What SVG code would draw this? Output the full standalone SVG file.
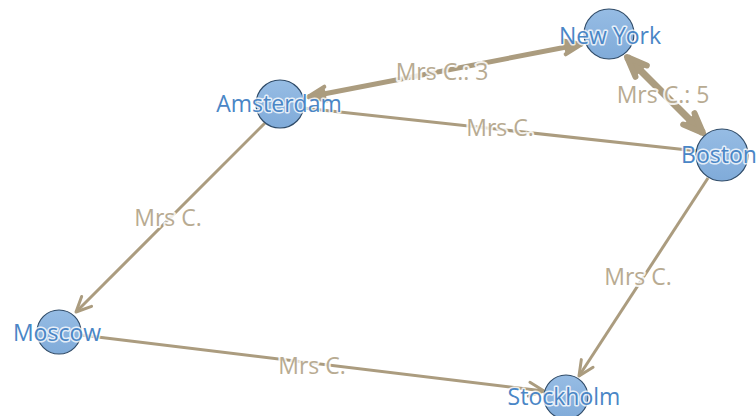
<svg xmlns="http://www.w3.org/2000/svg" width="756" height="416" viewBox="0 0 756 416">
<defs>
<linearGradient id="nodeFill" x1="0" y1="0" x2="0" y2="1">
<stop offset="0" stop-color="#96bce4"/>
<stop offset="1" stop-color="#80abd9"/>
</linearGradient>
<marker id="arrThin" viewBox="0 0 20 20" refX="18" refY="10" markerWidth="20" markerHeight="20" markerUnits="userSpaceOnUse" orient="auto-start-reverse">
<path d="M3,3 L18,10 L3,17" fill="none" stroke="#ab9c7f" stroke-width="3" stroke-linecap="round" stroke-linejoin="round"/>
</marker>
<marker id="arrMed" viewBox="0 0 26 26" refX="23" refY="13" markerWidth="26" markerHeight="26" markerUnits="userSpaceOnUse" orient="auto-start-reverse">
<path d="M5,6 L23,13 L5,20" fill="#ab9c7f" stroke="#ab9c7f" stroke-width="4" stroke-linecap="round" stroke-linejoin="round"/>
</marker>
<marker id="arrThick" viewBox="0 0 30 30" refX="26" refY="15" markerWidth="30" markerHeight="30" markerUnits="userSpaceOnUse" orient="auto-start-reverse">
<path d="M6,7 L26,15 L6,23" fill="#ab9c7f" stroke="#ab9c7f" stroke-width="6" stroke-linecap="round" stroke-linejoin="round"/>
</marker>
</defs>
<style>
.edge{fill:none;stroke:#ab9c7f;stroke-width:3}
.elabel{font-family:"Open Sans","Liberation Sans",sans-serif;font-size:23px;fill:#b8ab92;text-anchor:middle;stroke:#ffffff;stroke-width:4;stroke-opacity:0.85;paint-order:stroke;stroke-linejoin:round}
.node circle{fill:url(#nodeFill);stroke:#2f4b68;stroke-width:1.2}
.nlabel{font-family:"Open Sans","Liberation Sans",sans-serif;font-size:23px;fill:#4a86c6;text-anchor:middle;stroke:#ffffff;stroke-width:3;stroke-opacity:0.8;paint-order:stroke;stroke-linejoin:round}
</style>
<rect width="756" height="416" fill="#ffffff"/>
<g id="connectors">
<line class="edge" x1="308" y1="97" x2="582" y2="44" style="stroke-width:5" marker-start="url(#arrMed)" marker-end="url(#arrMed)"/>
<line class="edge" x1="627" y1="57" x2="703" y2="133" style="stroke-width:7" marker-start="url(#arrThick)" marker-end="url(#arrThick)"/>
<line class="edge" x1="303" y1="108" x2="697" y2="151"/>
<line class="edge" x1="265" y1="123" x2="76" y2="312" marker-end="url(#arrThin)"/>
<line class="edge" x1="708" y1="178" x2="579" y2="376" marker-end="url(#arrThin)"/>
<line class="edge" x1="81" y1="335" x2="544" y2="391" marker-end="url(#arrThin)"/>
<text class="elabel" x="442" y="80">Mrs C.: 3</text>
<text class="elabel" x="663" y="103">Mrs C.: 5</text>
<text class="elabel" x="500" y="136">Mrs C.</text>
<text class="elabel" x="168" y="226">Mrs C.</text>
<text class="elabel" x="638" y="285">Mrs C.</text>
<text class="elabel" x="312" y="374">Mrs C.</text>
</g>
<g id="node-newyork" class="node">
<circle cx="609" cy="34" r="25"/>
<text class="nlabel" x="610" y="44">New York</text>
</g>
<g id="node-amsterdam" class="node">
<circle cx="280" cy="104" r="24"/>
<text class="nlabel" x="279" y="112">Amsterdam</text>
</g>
<g id="node-boston" class="node">
<circle cx="722" cy="155" r="26"/>
<text class="nlabel" x="719" y="163">Boston</text>
</g>
<g id="node-moscow" class="node">
<circle cx="59" cy="332" r="22"/>
<text class="nlabel" x="57" y="341">Moscow</text>
</g>
<g id="node-stockholm" class="node">
<circle cx="566" cy="397" r="22"/>
<text class="nlabel" x="564" y="405">Stockholm</text>
</g>
</svg>
